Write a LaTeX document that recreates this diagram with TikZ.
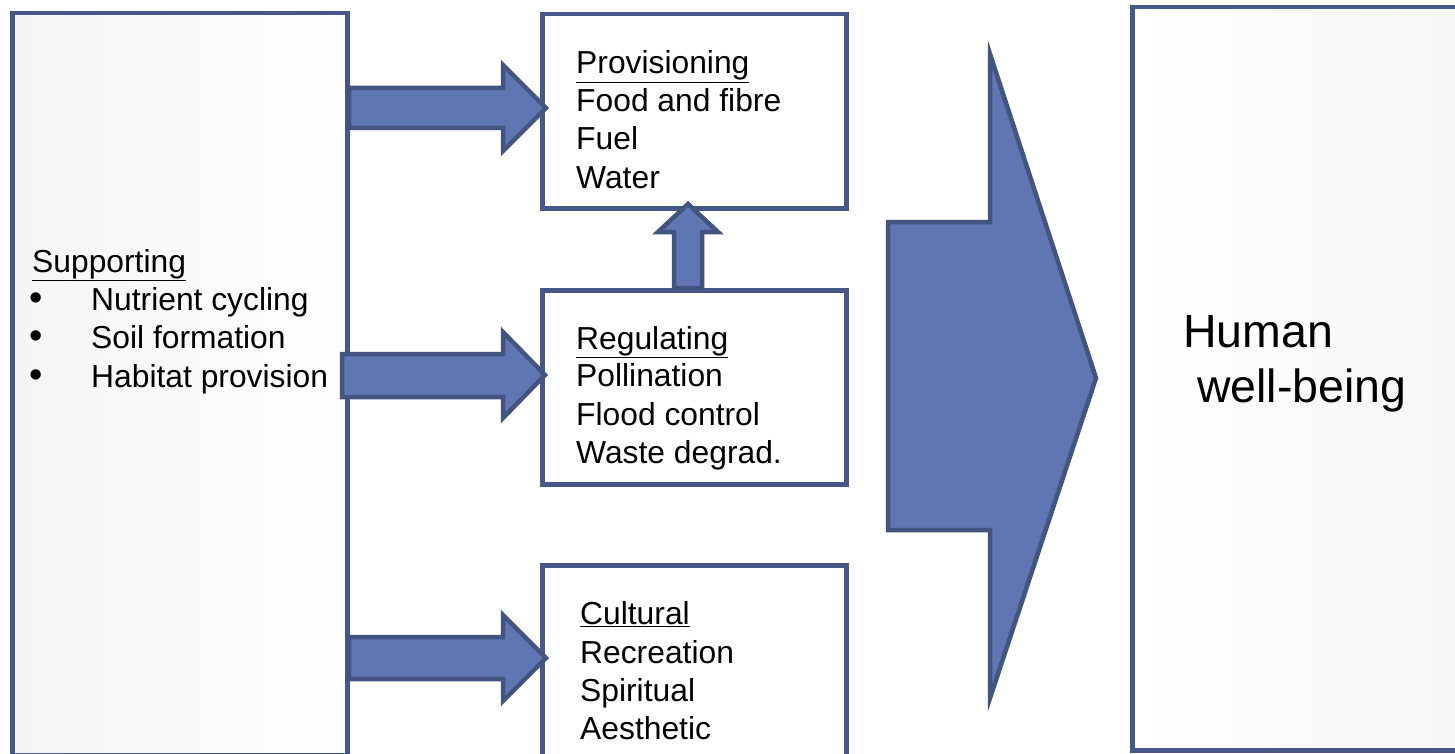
\documentclass[tikz,border=0pt]{standalone}
\usepackage{fontspec}
\setmainfont{Liberation Sans}
\definecolor{boxline}{RGB}{70,88,135}
\definecolor{arrfill}{RGB}{95,118,178}
\definecolor{arrline}{RGB}{68,84,128}
\definecolor{bggray}{RGB}{238,238,238}
\begin{document}
\begin{tikzpicture}[x=1pt,y=-1pt,
  box/.style={draw=boxline, line width=4.5pt, left color=bggray!60, right color=white, anchor=north west, inner sep=0pt},
  wbox/.style={draw=boxline, line width=4.5pt, fill=white, anchor=north west, inner sep=0pt},
  blockarrow/.style={draw=arrline, fill=arrfill, line width=4.5pt, line join=miter},
  txt/.style={anchor=base west, inner sep=0pt, font=\fontsize{31.8}{38}\selectfont},
  bul/.style={anchor=base west, inner sep=0pt, font=\fontsize{38}{38}\selectfont},
  big/.style={anchor=base west, inner sep=0pt, font=\fontsize{46.5}{56}\selectfont}]
\useasboundingbox (0,0) rectangle (1455,754);
\clip (0,0) rectangle (1455,754);
\fill[white] (0,0) rectangle (1455,754);
% boxes
\node[box, minimum width=335pt, minimum height=742pt] (sup) at (10,11) {};
\node[wbox, minimum width=304pt, minimum height=194pt] (prov) at (540,12) {};
\node[wbox, minimum width=304pt, minimum height=194pt] (reg) at (540,288) {};
\node[wbox, minimum width=304pt, minimum height=200pt] (cult) at (540,563) {};
\node[box, minimum width=340pt, minimum height=743pt, left color=white, right color=bggray!50] (hum) at (1130,5) {};
% block arrows
\draw[blockarrow] (349,88) -- (503,88) -- (503,65) -- (546,108) -- (503,151) -- (503,128) -- (349,128) -- cycle;
\draw[blockarrow] (342,354) -- (503,354) -- (503,332) -- (545,375) -- (503,418) -- (503,397) -- (342,397) -- cycle;
\draw[blockarrow] (349,637) -- (503,637) -- (503,615) -- (546,658) -- (503,701) -- (503,679) -- (349,679) -- cycle;
\draw[blockarrow] (674,288) -- (674,232) -- (658,232) -- (688,204) -- (718,232) -- (702,232) -- (702,288) -- cycle;
\draw[blockarrow] (888,222) -- (990,222) -- (990,54) -- (1096,378) -- (990,698) -- (990,530) -- (888,530) -- cycle;
% texts
\node[txt] (t1) at (32,272) {\underline{Supporting}};
\node[bul] (b1) at (29,310) {•};
\node[bul] (b2) at (29,348) {•};
\node[bul] (b3) at (29,387) {•};
\node[txt] (s1) at (91,310) {Nutrient cycling};
\node[txt] (s2) at (91,348) {Soil formation};
\node[txt] (s3) at (91,387) {Habitat provision};
\node[txt] (p0) at (576,74) {\underline{Provisioning}};
\node[txt] (p1) at (576,112) {Food and fibre};
\node[txt] (p2) at (576,150) {Fuel};
\node[txt] (p3) at (576,189) {Water};
\node[txt] (r0) at (576,349) {\underline{Regulating}};
\node[txt] (r1) at (576,386) {Pollination};
\node[txt] (r2) at (576,425) {Flood control};
\node[txt] (r3) at (576,463) {Waste degrad.};
\node[txt] (c0) at (580,624) {\underline{Cultural}};
\node[txt] (c1) at (580,663) {Recreation};
\node[txt] (c2) at (580,701) {Spiritual};
\node[txt] (c3) at (580,739) {Aesthetic};
\node[big] (h1) at (1183,347) {Human};
\node[big] (h2) at (1197,402) {well-being};
\end{tikzpicture}
\end{document}
